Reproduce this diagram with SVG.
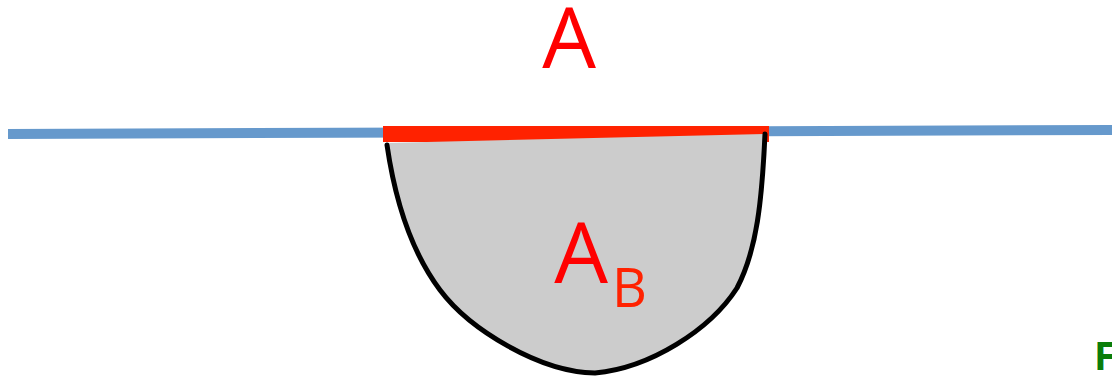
<svg xmlns="http://www.w3.org/2000/svg" width="1112" height="378" viewBox="0 0 1112 378">
<style>
.lbl{font-family:"Open Sans","Liberation Sans",sans-serif;fill:#FF0000}
</style>
<rect width="1112" height="378" fill="#fff"/>
<g id="axis">
<line x1="8" y1="134" x2="1112" y2="130" stroke="#6699CC" stroke-width="10"/>
</g>
<g id="segment">
<rect x="383" y="126" width="386" height="16" fill="#FF2200"/>
</g>
<g id="region">
<path d="M385,143 L765,134 C762,200 757,250 737,288 C710,330 650,368 595,373 C540,372 470,330 440,290 C410,250 395,200 387,145" fill="#CCCCCC"/>
<path d="M765,134 C762,200 757,250 737,288 C710,330 650,368 595,373 C540,372 470,330 440,290 C410,250 395,200 387,145" fill="none" stroke="#000" stroke-width="5" stroke-linecap="round"/>
</g>
<g id="labels">
<text class="lbl" x="569" y="68" font-size="85" text-anchor="middle">A</text>
<text class="lbl" x="581" y="283" font-size="85" text-anchor="middle">A</text>
<text class="lbl" x="612" y="307" font-size="54" style="fill:#FF2200">B</text>
<text x="1094" y="370" font-family="Open Sans, Liberation Sans, sans-serif" font-weight="bold" font-size="39" fill="#0A7D0A">F</text>
</g>
</svg>
